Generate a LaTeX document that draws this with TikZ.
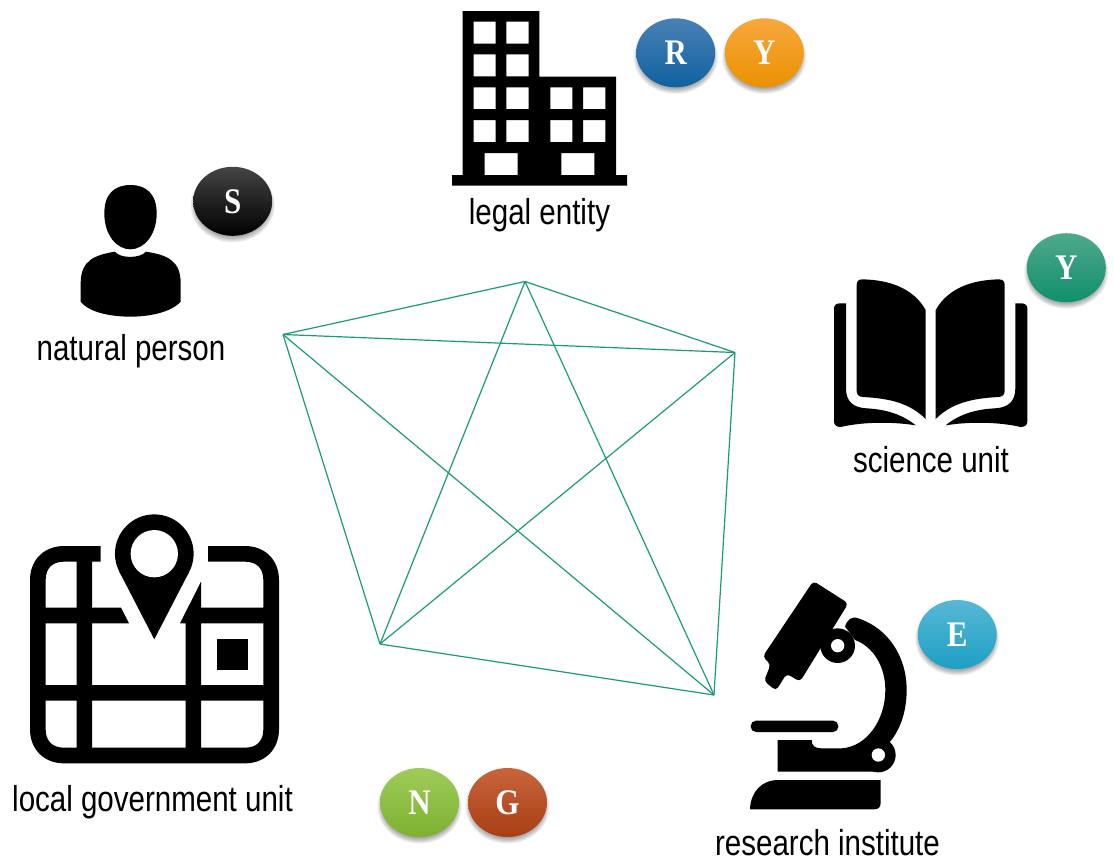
\documentclass[tikz,border=0pt]{standalone}
\usepackage{fontspec}
\newfontfamily\labfont[FakeStretch=0.82]{Liberation Sans}
\newfontfamily\letfont[FakeStretch=0.86]{Liberation Serif}
\definecolor{edgegreen}{HTML}{1A9A78}
\definecolor{blueA}{HTML}{4A80B5}\definecolor{blueB}{HTML}{1B6DB0}\definecolor{blueC}{HTML}{0F62A0}
\definecolor{orangeA}{HTML}{F7A83E}\definecolor{orangeB}{HTML}{F99F1B}\definecolor{orangeC}{HTML}{EB9100}
\definecolor{darkA}{HTML}{444444}\definecolor{darkB}{HTML}{000000}\definecolor{darkC}{HTML}{000000}
\definecolor{greenA}{HTML}{4FA98C}\definecolor{greenB}{HTML}{1BA27C}\definecolor{greenC}{HTML}{108F6B}
\definecolor{cyanA}{HTML}{58B8D5}\definecolor{cyanB}{HTML}{2BB0D8}\definecolor{cyanC}{HTML}{1D9FC5}
\definecolor{limeA}{HTML}{A0CC5A}\definecolor{limeB}{HTML}{8CC040}\definecolor{limeC}{HTML}{7DB030}
\definecolor{rustA}{HTML}{C8643C}\definecolor{rustB}{HTML}{C04A1C}\definecolor{rustC}{HTML}{A83E14}
\tikzset{
  lab/.style={font=\labfont\fontsize{27}{30}\selectfont,anchor=base,inner sep=0pt,text=black},
  edge/.style={draw=edgegreen,line width=0.9pt},
  letter/.style={font=\letfont\bfseries\fontsize{27}{30}\selectfont,text=white,inner sep=0pt},
  icon/.style={shift={#1},x=0.25pt,y=-0.25pt},
  iconm/.style={shift={#1},x=-0.25pt,y=-0.25pt}
}
\newcommand{\bubble}[7]{%
  \foreach \k in {0,...,15}{
    \fill[black,opacity=0.035] (#2,#3+4) ellipse ({34+\k*0.55} and {29+\k*0.55});
  }
  \shade[top color=#4,middle color=#5,bottom color=#6] (#2,#3) ellipse (39.5 and 34.5);
  \node[letter] (#1) at (#2,#3) {#7};
}
\newcommand{\bookhalf}{
  \fill[black] (110,180) .. controls (110,168) and (116,163) .. (128,163)
     .. controls (210,165) and (280,190) .. (317,255) -- (317,582)
     .. controls (270,535) and (210,520) .. (128,516)
     .. controls (116,515) and (110,508) .. (110,498) -- cycle;
  \fill[black] (42,250) .. controls (42,240) and (50,235) .. (60,235) -- (78,235) -- (78,490)
     .. controls (78,530) and (100,548) .. (140,550)
     .. controls (200,553) and (250,570) .. (287,601)
     .. controls (220,590) and (130,590) .. (62,606)
     .. controls (50,606) and (42,600) .. (42,590) -- cycle;
}
\begin{document}
\begin{tikzpicture}[x=0.75pt,y=-0.75pt]
\useasboundingbox (0,0) rectangle (1114,865);

% edges
\coordinate (np) at (283,334.5);
\coordinate (le) at (525,281.5);
\coordinate (su) at (735,352.5);
\coordinate (ri) at (714,695);
\coordinate (lg) at (380,644);
\draw[edge] (np) -- (le);
\draw[edge] (le) -- (su);
\draw[edge] (su) -- (ri);
\draw[edge] (ri) -- (lg);
\draw[edge] (lg) -- (np);
\draw[edge] (np) -- (su);
\draw[edge] (np) -- (ri);
\draw[edge] (le) -- (lg);
\draw[edge] (le) -- (ri);
\draw[edge] (su) -- (lg);

% building
\begin{scope}[icon={(440,0)}]
  \fill[black,even odd rule]
    (36,557) -- (36,525) -- (68,525) -- (68,33) -- (298,33) -- (298,230) -- (528,230) -- (528,525) -- (561,525) -- (561,557) -- cycle
    (101,65) rectangle (167,131) (199,65) rectangle (266,131)
    (101,163) rectangle (167,229) (199,163) rectangle (266,229)
    (101,262) rectangle (167,327) (199,262) rectangle (266,327)
    (101,360) rectangle (167,426) (199,360) rectangle (266,426)
    (331,262) rectangle (397,327) (429,262) rectangle (496,327)
    (331,360) rectangle (397,426) (429,360) rectangle (496,426)
    (134,459) rectangle (233,525) (364,459) rectangle (463,525);
\end{scope}

% person
\begin{scope}[icon={(60,160)}]
  \fill[black] (211,75) .. controls (165,75) and (133,100) .. (133,160)
    .. controls (133,225) and (170,268) .. (211,268)
    .. controls (252,268) and (290,225) .. (290,160)
    .. controls (290,100) and (257,75) .. (211,75) -- cycle;
  \fill[black] (165,275) .. controls (180,296) and (240,296) .. (258,275)
    .. controls (320,285) and (362,300) .. (362,370) -- (362,425)
    .. controls (330,460) and (260,470) .. (211,470)
    .. controls (160,470) and (90,460) .. (62,425) -- (62,370)
    .. controls (62,300) and (105,285) .. (165,275) -- cycle;
\end{scope}

% book
\begin{scope}[icon={(820,225)}]
  \bookhalf
\end{scope}
\begin{scope}[iconm={(1041.33,225)}]
  \bookhalf
\end{scope}

% map
\begin{scope}[icon={(20,500)}]
  \fill[black,even odd rule]
    (132,138) -- (242,138) -- (242,185) -- (216,185) -- (216,323) -- (303,323) -- (327,370) -- (216,370)
    -- (216,555) -- (497,555) -- (497,370) -- (480,370) -- (543,245) -- (543,323) -- (730,323) -- (730,240)
    .. controls (730,205) and (710,185) .. (675,185) -- (564,185) -- (564,138) -- (675,138)
    .. controls (735,138) and (777,180) .. (777,240) -- (777,688)
    .. controls (777,748) and (735,790) .. (675,790) -- (132,790)
    .. controls (72,790) and (30,748) .. (30,688) -- (30,240)
    .. controls (30,180) and (72,138) .. (132,138) -- cycle
    (77,240) .. controls (77,205) and (97,185) .. (132,185) -- (170,185) -- (170,323) -- (77,323) -- cycle
    (77,370) rectangle (170,555)
    (543,370) rectangle (730,555)
    (77,602) -- (170,602) -- (170,743) -- (132,743) .. controls (97,743) and (77,723) .. (77,688) -- cycle
    (216,602) rectangle (497,743)
    (543,602) -- (730,602) -- (730,688) .. controls (730,723) and (710,743) .. (675,743) -- (543,743) -- cycle;
  \fill[black] (590,416) rectangle (684,510);
\end{scope}
% map pin
\fill[black] (154.3,639.3) -- (119.4,571.8) -- (189.2,571.8) -- cycle;
\fill[black] (154.3,553.7) circle (29.5pt);
\fill[white] (154.3,553.7) circle (17.75pt);

% microscope tube
\begin{scope}[icon={(750,575)}]
  \fill[black,rounded corners=3pt]
    (190,18) -- (295,85) -- (150,320) -- (110,296) -- (78,347) -- (42,318) -- (62,268) -- (38,245) -- cycle;
\end{scope}
% microscope arm and base
\begin{scope}[icon={(730,570)}]
  \fill[black] (323,227) circle (13pt);
  \fill[black] (345,170) .. controls (352,148) and (365,138) .. (385,145)
    .. controls (475,175) and (530,260) .. (530,360)
    .. controls (530,425) and (510,480) .. (480,515)
    -- (450,540) -- (450,605) -- (143,605) -- (143,510) -- (245,510)
    .. controls (245,528) and (255,535) .. (275,535) -- (335,535)
    .. controls (410,530) and (466,450) .. (466,360)
    .. controls (466,290) and (430,230) .. (375,210) -- cycle;
  \fill[black] (445,555) circle (13pt);
  \fill[white] (445,555) circle (5pt);
  \fill[white] (323,227) circle (5pt);
  \fill[black,rounded corners=4pt] (62,452) rectangle (325,486);
  \fill[black] (60,718) .. controls (62,665) and (95,630) .. (145,630) -- (452,630) -- (452,698)
    .. controls (452,712) and (445,718) .. (432,718) -- cycle;
\end{scope}

% bubbles
\bubble{bR}{675.7}{52.8}{blueA}{blueB}{blueC}{R}
\bubble{bY}{764.3}{52.8}{orangeA}{orangeB}{orangeC}{Y}
\bubble{bS}{232.7}{201.3}{darkA}{darkB}{darkC}{S}
\bubble{bG}{1066.3}{267.7}{greenA}{greenB}{greenC}{Y}
\bubble{bE}{957.2}{634.5}{cyanA}{cyanB}{cyanC}{E}
\bubble{bN}{419.5}{802.5}{limeA}{limeB}{limeC}{N}
\bubble{bO}{507.5}{802.5}{rustA}{rustB}{rustC}{G}

% labels
\node[lab] (tNP) at (131,360) {natural person};
\node[lab] (tLE) at (539.5,224) {legal entity};
\node[lab] (tSU) at (931,472.5) {science unit};
\node[lab] (tRI) at (827.5,855) {research institute};
\node[lab] (tLG) at (152.5,811) {local government unit};
\end{tikzpicture}
\end{document}
